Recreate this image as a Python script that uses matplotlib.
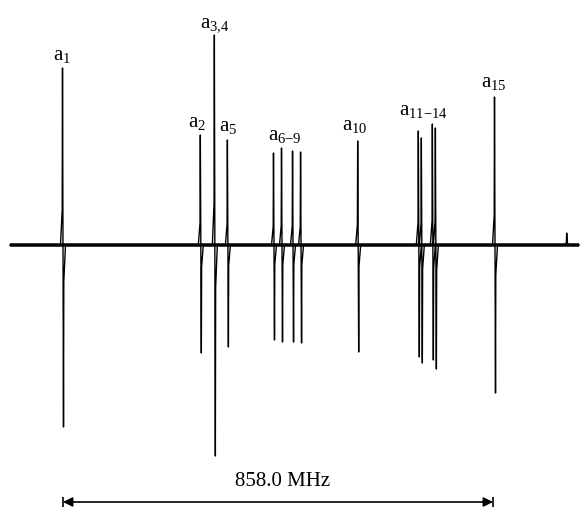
import numpy as np
import matplotlib.pyplot as plt

plt.rcParams['font.family'] = ['Liberation Serif', 'DejaVu Serif']
plt.rcParams['mathtext.fontset'] = 'custom'
plt.rcParams['mathtext.rm'] = 'Liberation Serif'
plt.rcParams['mathtext.it'] = 'Liberation Serif:italic'

# line positions (MHz, relative to a1) and peak heights up / down (arb. units)
pos = [0, 275, 303, 329, 421, 437, 459, 475, 589, 710, 716, 738, 744, 862, 1006]
up = [177, 110, 210, 105, 92, 97, 94, 93, 104, 114, 107, 121, 117, 148, 12]
down = [182, 108, 211, 102, 95, 97, 97, 98, 107, 112, 118, 115, 124, 148, 0]

labels = [r'$\mathrm{a}_{1}$', r'$\mathrm{a}_{2}$', r'$\mathrm{a}_{3{,}4}$', r'$\mathrm{a}_{5}$',
          r'$\mathrm{a}_{6{-}9}$', r'$\mathrm{a}_{10}$', r'$\mathrm{a}_{11{-}14}$', r'$\mathrm{a}_{15}$']
label_x = [-3, 267, 303, 329, 442, 583, 718, 860]
label_y = [185, 118, 218, 114, 105, 115, 130, 158]

x_start, x_end = -106, 1030
span = 858.0

s = span / 430.0  # MHz per pixel
fig = plt.figure(figsize=(5.81, 5.07), dpi=100)
ax = fig.add_axes([0, 0, 1, 1])
ax.set_xlim(-63 * s, 518 * s)
ax.set_ylim(-262, 245)
ax.axis('off')

# build trace: derivative-shaped lines on a flat baseline
xs, ys = [x_start], [0]
for p, u, d in zip(pos, up, down):
    xs += [p - 2.5 * s, p - 0.8 * s, p - 0.5 * s, p + 0.5 * s, p + 0.8 * s, p + 2.5 * s]
    ys += [0, u * 0.2, u, -d, -d * 0.2, 0]
xs.append(x_end)
ys.append(0)

ax.plot([x_start, x_end], [0, 0], color='#111111', lw=2.6, solid_capstyle='butt')
ax.plot(xs, ys, color='black', lw=1.0)

for t, lx, ly in zip(labels, label_x, label_y):
    ax.text(lx, ly, t, ha='center', va='baseline', fontsize=15)

# scale arrow
ya = -257
ax.annotate('', xy=(0, ya), xytext=(span, ya),
            arrowprops=dict(arrowstyle='<|-|>', color='black', lw=1.2,
                            shrinkA=0, shrinkB=0, mutation_scale=14))
ax.vlines([0, span], ya - 5, ya + 5, color='black', lw=1.2)
ax.text(439, -236, '858.0 MHz', ha='center', va='center', fontsize=15)

fig.savefig('out.png', dpi=100)
